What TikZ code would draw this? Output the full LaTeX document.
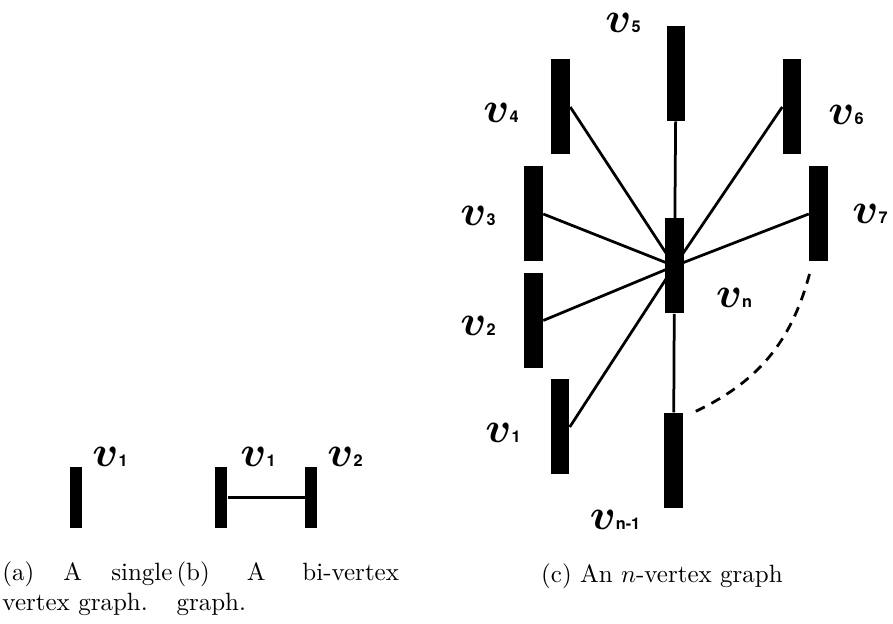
\documentclass[tikz,border=0pt]{standalone}
\usepackage{fontspec}
\usepackage{bm}
\usepackage{tikz}
\usetikzlibrary{positioning,calc}
\newfontfamily\subfont{TeX Gyre Heros}
\newcommand{\vlab}[1]{{\fontsize{17.28}{18}\selectfont$\bm{v}$}{\fontsize{6.5}{7}\selectfont\subfont\bfseries #1}}

\begin{document}
\begin{tikzpicture}[x=0.4pt,y=-0.4pt,
    bar/.style={rectangle,fill=black,inner sep=0pt,
                minimum width=7.4pt,minimum height=38pt},
    minibar/.style={bar,minimum width=4.8pt,minimum height=24.4pt},
    lab/.style={inner sep=0pt},
    edge/.style={line width=1.1pt},
    capt/.style={inner sep=0pt,align=left,anchor=north west}]
  \useasboundingbox (0,0) rectangle (893,624);
  % (a) single vertex
  \node[minibar] (a1) at (76,497.5) {};
  \node[lab] (la1) at (110,457) {\vlab{1}};
  % (b) bi-vertex
  \node[minibar] (b1) at (221,497.5) {};
  \node[minibar] (b2) at (311,497.5) {};
  \node[lab] (lb1) at (258,457) {\vlab{1}};
  \node[lab] (lb2) at (345,457) {\vlab{2}};
  \draw[edge] (b1) -- (b2);
  % (c) n-vertex
  \node[bar] (v5) at (676,73.5) {};
  \node[bar] (v4) at (560.5,107) {};
  \node[bar] (v6) at (792,107) {};
  \node[bar] (v3) at (533.5,214) {};
  \node[bar] (v7) at (818.5,214) {};
  \node[bar] (vn) at (674.5,266) {};
  \node[bar] (v2) at (533.5,320.5) {};
  \node[bar] (v1) at (560,427) {};
  \node[bar] (vn1) at (673.5,460.5) {};
  \node[lab] (l5) at (623,23) {\vlab{5}};
  \node[lab] (l4) at (501,113) {\vlab{4}};
  \node[lab] (l6) at (846,115) {\vlab{6}};
  \node[lab] (l3) at (478,216) {\vlab{3}};
  \node[lab] (l7) at (870,214) {\vlab{7}};
  \node[lab] (l2) at (478,326) {\vlab{2}};
  \node[lab] (l1) at (503,433) {\vlab{1}};
  \node[lab] (ln) at (734,298) {\vlab{n}};
  \node[lab] (ln1) at (615,520) {\vlab{n-1}};
  \draw[edge] (v1.east) -- (vn.center);
  \draw[edge] (v2.east) -- (vn.center);
  \draw[edge] (v3.east) -- (vn.center);
  \draw[edge] (v4.east) -- (vn.center);
  \draw[edge] (v6.west) -- (vn.center);
  \draw[edge] (v7.west) -- (vn.center);
  \draw[edge] (v5) -- (vn);
  \draw[edge] (vn) -- (vn1);
  \draw[edge,dash pattern=on 4pt off 3pt]
    ($(v7.south)+(-9,12)$) to[bend left=25] ($(vn1.north east)+(10,0)$);
  % captions
  \node[capt] (capa) at (2,561) {\makebox[68pt][s]{(a) A single}\\vertex graph.};
  \node[capt] (capb) at (176,561) {\makebox[89pt][s]{(b) A bi-vertex}\\graph.};
  \node[inner sep=0pt,anchor=north] (capc) at (662,563) {(c) An $n$-vertex graph};
\end{tikzpicture}
\end{document}
